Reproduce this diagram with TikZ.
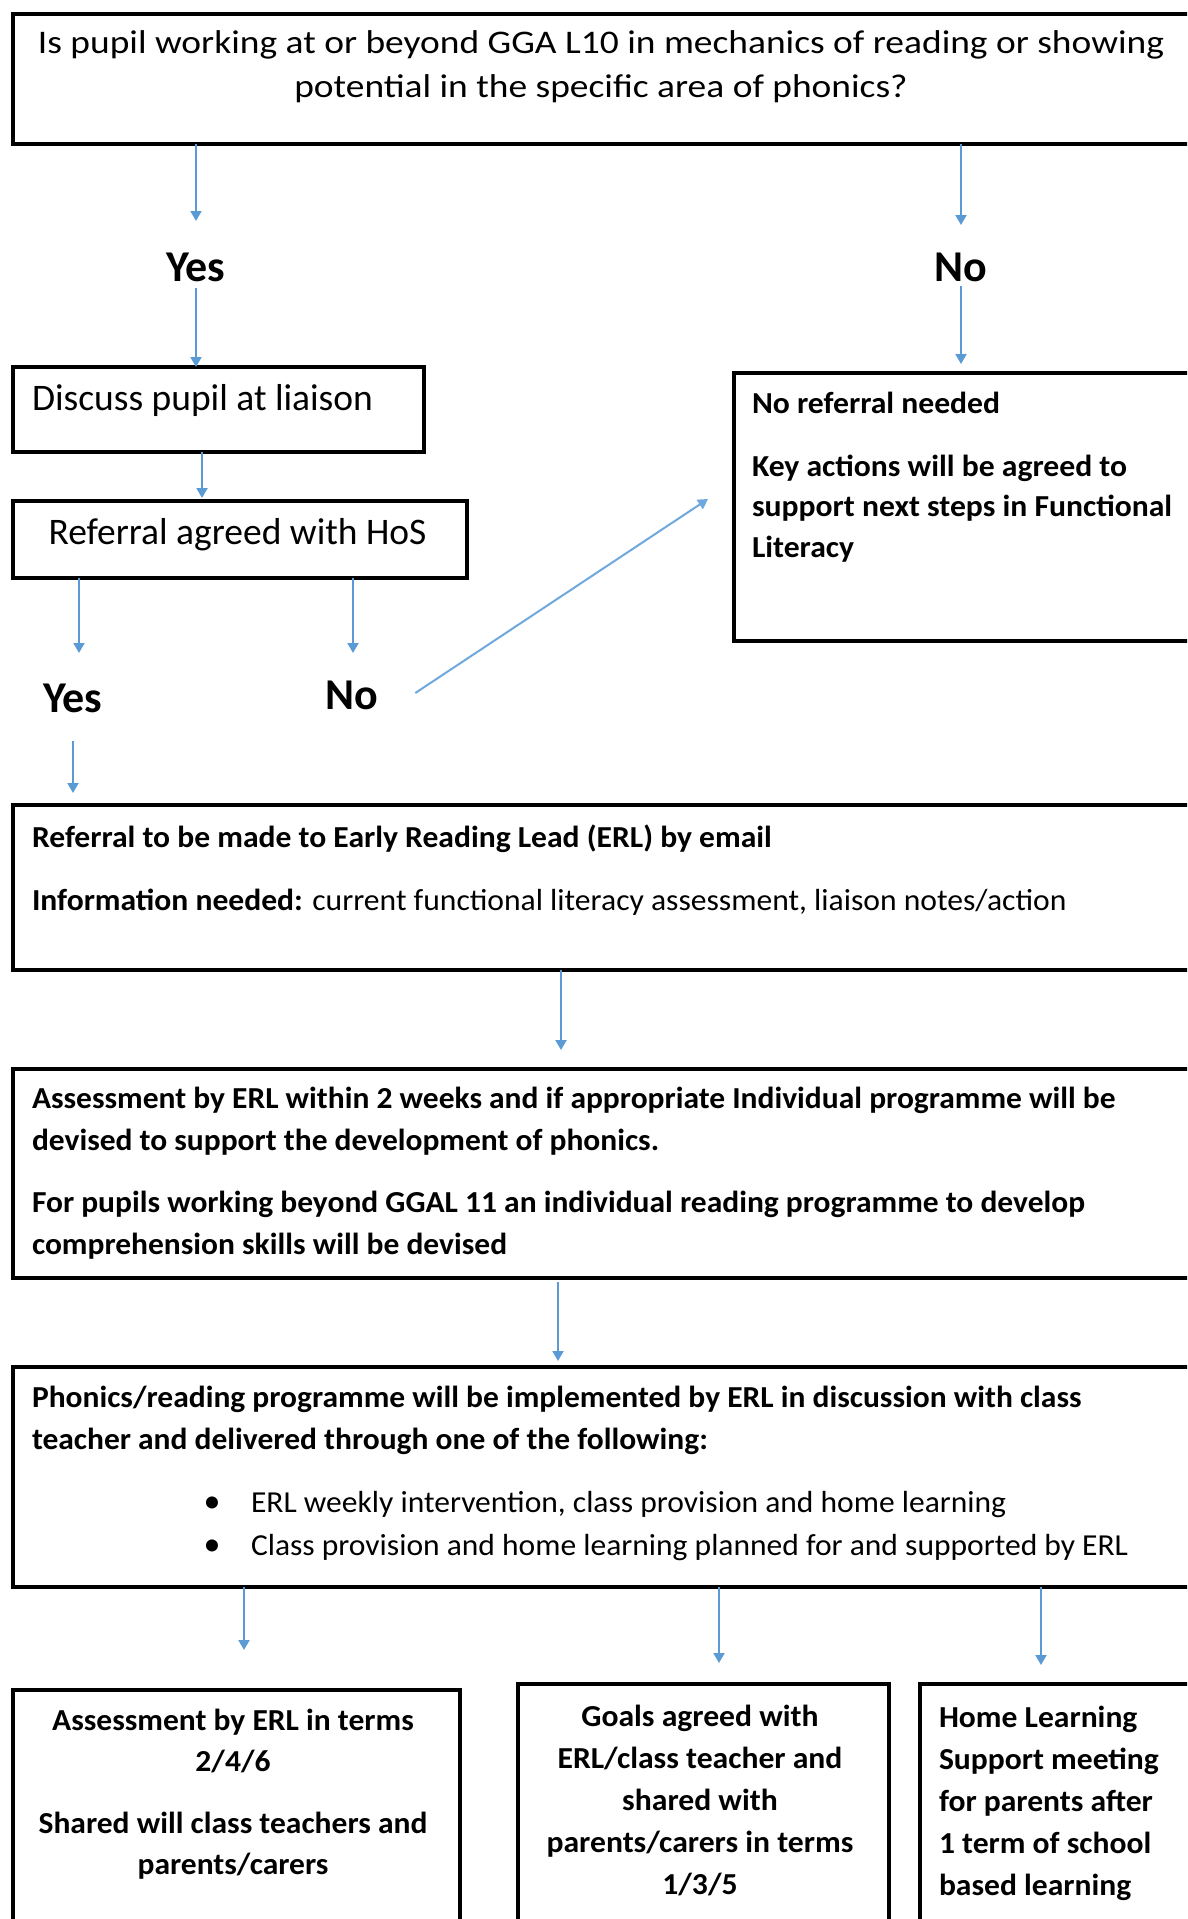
\documentclass[tikz,border=0pt]{standalone}
\usepackage{fontspec}
\setmainfont{Carlito}
\usetikzlibrary{arrows.meta}
\definecolor{arrblue}{HTML}{5B9BD5}
\definecolor{arrlight}{HTML}{6FA8DC}
\newcommand{\fs}[2]{\fontsize{#1pt}{#2pt}\selectfont}
\newcommand{\stx}[2]{\scalebox{#1}[1]{#2}}
\begin{document}
\begin{tikzpicture}[x=1pt,y=-1pt,
  box/.style={draw=black, line width=3.3pt, outer sep=0pt, inner sep=0pt, anchor=north west},
  txt/.style={inner sep=0pt, outer sep=0pt},
  lbl/.style={inner sep=0pt, outer sep=0pt, anchor=base, font=\bfseries\fs{44}{50}, text height=28pt, text depth=0pt},
  arr/.style={draw=arrblue, line width=2pt, -{Triangle[width=11pt,length=10pt]}},
  arrd/.style={draw=arrlight, line width=2pt, -{Triangle[width=11pt,length=10pt]}},
]
\useasboundingbox (0,0) rectangle (1187,1919);
\clip (0,0) rectangle (1187,1919);

% ---------- boxes ----------
\node[box, minimum width=1187pt, minimum height=130pt] (q) at (13,14) {};
\node[box, minimum width=411pt, minimum height=85pt] (discuss) at (13,367) {};
\node[box, minimum width=454pt, minimum height=77pt] (hos) at (13,501) {};
\node[box, minimum width=466pt, minimum height=268pt] (noref) at (734,373) {};
\node[box, minimum width=1187pt, minimum height=165pt] (erl) at (13,805) {};
\node[box, minimum width=1187pt, minimum height=209pt] (assess) at (13,1069) {};
\node[box, minimum width=1187pt, minimum height=220pt] (phon) at (13,1367) {};
\node[box, minimum width=447pt, minimum height=260pt] (bl) at (13,1690) {};
\node[box, minimum width=371pt, minimum height=266pt] (bm) at (518,1684) {};
\node[box, minimum width=280pt, minimum height=266pt] (br) at (920,1684) {};

% ---------- texts ----------
\node[txt, anchor=base] (qtext) at (601,53) {\fs{33}{44.5}\stx{1.135}{\begin{tabular}[t]{@{}c@{}}Is pupil working at or beyond GGA L10 in mechanics of reading or showing\\potential in the specific area of phonics?\end{tabular}}};

\node[txt, anchor=base west] (dtext) at (32,410) {\fs{37.5}{45}Discuss pupil at liaison};
\node[txt, anchor=base] (htext) at (237.5,544) {\fs{37.5}{45}Referral agreed with HoS};

\node[lbl] (yes1) at (196,281) {Yes};
\node[lbl] (no1) at (961,281) {No};
\node[lbl] (yes2) at (73,712) {Yes};
\node[lbl] (no2) at (352,709) {No};

\node[txt, anchor=base west] (ntext) at (752,413) {\fs{30.5}{40.5}\bfseries\stx{1.038}{\begin{tabular}[t]{@{}l@{}}No referral needed\\[22.5pt]Key actions will be agreed to\\support next steps in Functional\\Literacy\end{tabular}}};

\node[txt, anchor=base west] (etext) at (32,847) {\fs{30.5}{40}\stx{1.036}{\begin{tabular}[t]{@{}l@{}}\textbf{Referral to be made to Early Reading Lead (ERL) by email}\\[23pt]\textbf{Information needed:} current functional literacy assessment, liaison notes/action\end{tabular}}};

\node[txt, anchor=base west] (atext) at (32,1108) {\fs{30.5}{42}\bfseries\stx{1.033}{\begin{tabular}[t]{@{}l@{}}Assessment by ERL within 2 weeks and if appropriate Individual programme will be\\devised to support the development of phonics.\\[20pt]For pupils working beyond GGAL 11 an individual reading programme to develop\\comprehension skills will be devised\end{tabular}}};

\node[txt, anchor=base west] (ptext) at (32,1407) {\fs{30.5}{42}\bfseries\stx{1.033}{\begin{tabular}[t]{@{}l@{}}Phonics/reading programme will be implemented by ERL in discussion with class\\teacher and delivered through one of the following:\end{tabular}}};
\node[txt, anchor=base west] (btext) at (251,1512) {\fs{30.5}{43}\stx{1.034}{\begin{tabular}[t]{@{}l@{}}ERL weekly intervention, class provision and home learning\\Class provision and home learning planned for and supported by ERL\end{tabular}}};
\node[txt, anchor=base] (bdots) at (212,1512) {\fs{34}{43}\begin{tabular}[t]{@{}c@{}}\textbullet\\\textbullet\end{tabular}};

\node[txt, anchor=base] (bltext) at (233,1730) {\fs{30.5}{41}\bfseries\stx{1.034}{\begin{tabular}[t]{@{}c@{}}Assessment by ERL in terms\\2/4/6\\[21pt]Shared will class teachers and\\parents/carers\end{tabular}}};
\node[txt, anchor=base] (bmtext) at (700,1726) {\fs{30.5}{42}\bfseries\stx{1.038}{\begin{tabular}[t]{@{}c@{}}Goals agreed with\\ERL/class teacher and\\shared with\\parents/carers in terms\\1/3/5\end{tabular}}};
\node[txt, anchor=base west] (brtext) at (939,1727) {\fs{30.5}{42}\bfseries\stx{1.036}{\begin{tabular}[t]{@{}l@{}}Home Learning\\Support meeting\\for parents after\\1 term of school\\based learning\end{tabular}}};

% ---------- arrow columns ----------
\coordinate (c79) at (79,0);
\coordinate (c202) at (202,0);
\coordinate (c353) at (353,0);
\coordinate (c561) at (561,0);
\coordinate (c558) at (558,0);
\coordinate (c244) at (244,0);
\coordinate (c719) at (719,0);
\coordinate (c1041) at (1041,0);
\coordinate (nrtip) at (708,499);

% ---------- arrows ----------
\draw[arr, shorten >=32pt] (q.south -| yes1) -- (yes1.north);
\draw[arr, shorten >=28pt] (q.south -| no1) -- (no1.north);
\draw[arr, shorten <=7pt] (yes1.south) -- (discuss.north -| yes1);
\draw[arr, shorten <=5pt, shorten >=9pt] (no1.south) -- (noref.north -| no1);
\draw[arr, shorten >=3pt] (c202 |- discuss.south) -- (c202 |- hos.north);
\draw[arr, shorten >=31pt] (c79 |- hos.south) -- (c79 |- yes2.north);
\draw[arr, shorten >=28pt] (c353 |- hos.south) -- (c353 |- no2.north);
\draw[arrd] ([xshift=37pt,yshift=2pt]no2.east) -- (nrtip);
\draw[arr, shorten <=29pt, shorten >=12pt] (yes2.south) -- (erl.north -| yes2);
\draw[arr, shorten >=19pt] (c561 |- erl.south) -- (c561 |- assess.north);
\draw[arr, shorten <=4pt, shorten >=6pt] (c558 |- assess.south) -- (c558 |- phon.north);
\draw[arr, shorten >=40pt] (c244 |- phon.south) -- (c244 |- bl.north);
\draw[arr, shorten >=21pt] (c719 |- phon.south) -- (c719 |- bm.north);
\draw[arr, shorten >=19pt] (c1041 |- phon.south) -- (c1041 |- br.north);
\end{tikzpicture}
\end{document}
